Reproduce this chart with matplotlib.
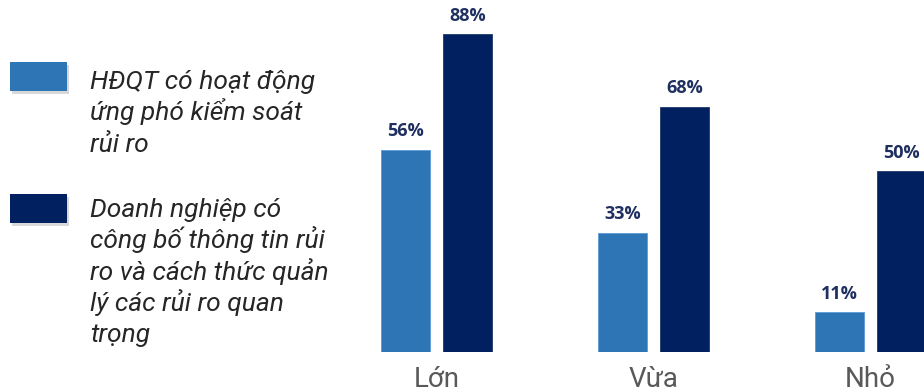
import matplotlib.pyplot as plt
from matplotlib.patches import Rectangle

# Data
categories = ['Lớn', 'Vừa', 'Nhỏ']
hdqt = [56, 33, 11]
doanh_nghiep = [88, 68, 50]
legend_lines = [
    ['HĐQT có hoạt động', 'ứng phó kiểm soát', 'rủi ro'],
    ['Doanh nghiệp có', 'công bố thông tin rủi', 'ro và cách thức quản',
     'lý các rủi ro quan', 'trọng'],
]

light = '#2E75B6'
dark = '#002060'
label_col = '#1F2F5F'

W, H = 924, 392
fig = plt.figure(figsize=(W / 100, H / 100), dpi=100)

# plot area: right part of the figure, baseline at y=352 px
ax = fig.add_axes([360 / W, 40 / H, 564 / W, 352 / H])
x = range(len(categories))
bw = 0.226
off = 0.143
b1 = ax.bar([i - off for i in x], hdqt, width=bw, color=light, edgecolor='#5B9BD5', linewidth=0.6)
b2 = ax.bar([i + off for i in x], doanh_nghiep, width=bw, color=dark, edgecolor='#1F3A6E', linewidth=0.6)

for bars, vals in [(b1, hdqt), (b2, doanh_nghiep)]:
    for b, v in zip(bars, vals):
        ax.annotate(f'{v}%', (b.get_x() + b.get_width() / 2, v),
                    xytext=(0, 7), textcoords='offset points',
                    ha='center', va='bottom', fontsize=13, fontweight='bold',
                    color=label_col, family='Open Sans')

ax.set_xlim(-0.3525, 2.2465)
ax.set_ylim(0, 97.5)
ax.set_xticks(list(x))
ax.set_xticklabels(categories, fontsize=20, color='#595959', family='Roboto')
ax.tick_params(axis='x', length=0, pad=10)
ax.set_yticks([])
for s in ax.spines.values():
    s.set_visible(False)

# legend drawn by hand (patches with soft shadow + italic wrapped text)
patch_tops = [62, 194]
first_baselines = [89, 217]
for k, col in enumerate([light, dark]):
    y0 = H - patch_tops[k] - 29
    fig.add_artist(Rectangle((12 / W, (y0 - 3) / H), 57 / W, 29 / H,
                             transform=fig.transFigure, color='#c8c8c8', alpha=0.7, lw=0))
    fig.add_artist(Rectangle((10 / W, y0 / H), 57 / W, 29 / H,
                             transform=fig.transFigure, color=col, lw=0))
    for j, line in enumerate(legend_lines[k]):
        yb = H - first_baselines[k] - j * 31.3
        fig.text(90 / W, yb / H, line, fontsize=19, style='italic',
                 family='Roboto', color='#262626', va='baseline', ha='left')

fig.savefig('out.png', dpi=100)
